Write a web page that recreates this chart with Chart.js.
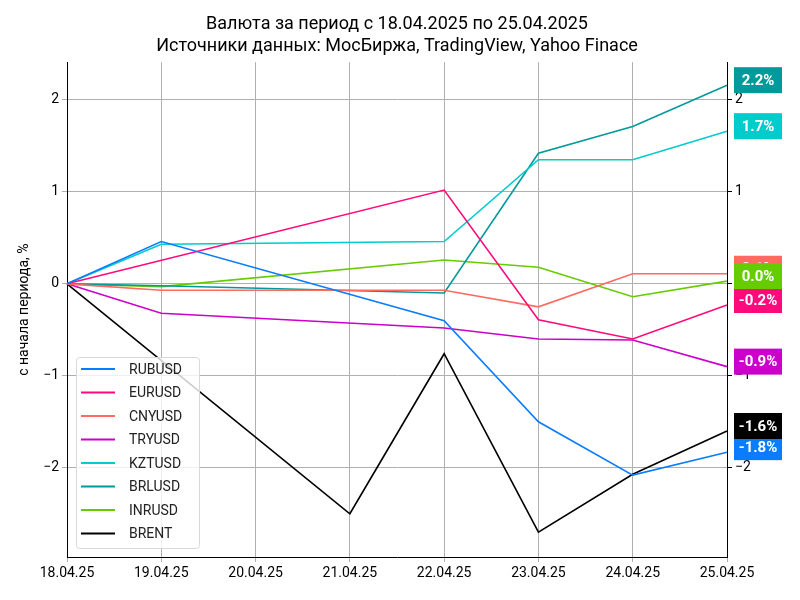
<!DOCTYPE html>
<html>
<head>
<meta charset="utf-8">
<script src="https://cdn.jsdelivr.net/npm/chart.js"></script>
<style>
  body { margin: 0; background: #fff; }
  #wrap { width: 800px; height: 600px; }
</style>
</head>
<body>
<div id="wrap"><canvas id="currencyChart"></canvas></div>
<script>
// Dates and percent change since start of period
const dates = ["18.04.25", "19.04.25", "20.04.25", "21.04.25", "22.04.25", "23.04.25", "24.04.25", "25.04.25"];
const rubusd = [0, 0.46, null, null, -0.40, -1.50, -2.08, -1.83];
const eurusd = [0, null, null, null, 1.02, -0.39, -0.60, -0.23];
const cnyusd = [0, -0.07, null, null, -0.07, -0.25, 0.11, 0.11];
const tryusd = [0, -0.32, null, null, -0.48, -0.60, -0.61, -0.90];
const kztusd = [0, 0.43, null, null, 0.46, 1.35, 1.35, 1.66];
const brlusd = [0, -0.02, null, null, -0.10, 1.42, 1.71, 2.16];
const inrusd = [0, -0.03, null, null, 0.26, 0.18, -0.14, 0.03];
const brent = [0, null, null, -2.50, -0.76, -2.70, -2.07, -1.60];
const yTicks = [-2, -1, 0, 1, 2];

const series = [
  { label: "RUBUSD", data: rubusd, color: "#0a7cff" },
  { label: "EURUSD", data: eurusd, color: "#ff0a7c" },
  { label: "CNYUSD", data: cnyusd, color: "#ff6b60" },
  { label: "TRYUSD", data: tryusd, color: "#cc00cc" },
  { label: "KZTUSD", data: kztusd, color: "#00cccc" },
  { label: "BRLUSD", data: brlusd, color: "#009a9a" },
  { label: "INRUSD", data: inrusd, color: "#66cc00" },
  { label: "BRENT", data: brent, color: "#000000" },
];

const FONT = "Roboto, 'DejaVu Sans', sans-serif";

// Legend box inside the plot + value labels on the right
const extras = {
  id: "extras",
  afterDraw(chart) {
    const c = chart.ctx;
    const y = chart.scales.y;
    // value boxes
    c.save();
    c.font = "bold 15px " + FONT;
    c.textAlign = "center";
    c.textBaseline = "middle";
    series.forEach(s => {
      const v = s.data[s.data.length - 1];
      const py = y.getPixelForValue(v) - 5;
      c.fillStyle = s.color;
      c.fillRect(734, py - 13, 48, 26);
      c.fillStyle = "#fff";
      c.fillText(v.toFixed(1) + "%", 758, py + 1);
    });
    // legend
    const lx = 76, ly = 357;
    c.fillStyle = "rgba(255,255,255,0.8)";
    c.strokeStyle = "#d8d8d8";
    c.lineWidth = 1;
    c.beginPath();
    c.roundRect(lx + 0.5, ly + 0.5, 123, 191, 3);
    c.fill();
    c.stroke();
    c.font = "14px " + FONT;
    c.textAlign = "left";
    series.forEach((s, i) => {
      const ry = ly + 12 + i * 23.5;
      c.strokeStyle = s.color;
      c.lineWidth = 2;
      c.beginPath();
      c.moveTo(81, ry);
      c.lineTo(115, ry);
      c.stroke();
      c.fillStyle = "#222";
      c.fillText(s.label, 129, ry + 1);
    });
    c.restore();
  }
};

new Chart(document.getElementById("currencyChart"), {
  type: "line",
  data: {
    labels: dates,
    datasets: series.map(s => ({
      label: s.label,
      data: s.data,
      borderColor: s.color,
      backgroundColor: s.color,
      borderWidth: 1.6,
      pointRadius: 0,
      tension: 0,
      spanGaps: true,
    })),
  },
  options: {
    responsive: true,
    maintainAspectRatio: false,
    animation: false,
    layout: { padding: { left: 12, right: 18, top: 14, bottom: 0 } },
    plugins: {
      legend: { display: false },
      tooltip: { enabled: false },
      title: {
        display: true,
        text: ["Валюта за период с 18.04.2025 по 25.04.2025", "Источники данных: МосБиржа, TradingView, Yahoo Finace"],
        color: "#000",
        font: { family: FONT, size: 18, weight: "normal", lineHeight: 1.2 },
        padding: { top: 0, bottom: 5 },
      },
    },
    scales: {
      x: {
        offset: false,
        grid: { color: "#b0b0b0", drawTicks: true, tickLength: 5 },
        border: { color: "#000" },
        ticks: { color: "#000", font: { family: FONT, size: 14 }, maxRotation: 0, autoSkip: false },
        afterFit(s) { s.height = 43; },
      },
      y: {
        min: -2.97, max: 2.41,
        afterBuildTicks(s) { s.ticks = yTicks.map(v => ({ value: v })); },
        grid: { color: "#b0b0b0", tickLength: 5 },
        border: { color: "#000" },
        ticks: { color: "#000", font: { family: FONT, size: 14 }, callback: v => v === 0 ? "0" : (v < 0 ? "−" + Math.abs(v) : v) },
        title: { display: true, text: "с начала периода, %", color: "#000", font: { family: FONT, size: 14 } },
        afterFit(s) { s.width = 55; },
      },
      y2: {
        position: "right",
        min: -2.97, max: 2.41,
        afterBuildTicks(s) { s.ticks = yTicks.map(v => ({ value: v })); },
        grid: { drawOnChartArea: false, tickLength: 5, color: "#000" },
        border: { color: "#000" },
        ticks: { color: "#000", font: { family: FONT, size: 14 }, callback: v => v === 0 ? "0" : (v < 0 ? "−" + Math.abs(v) : v) },
        afterFit(s) { s.width = 55; },
      },
    },
  },
  plugins: [extras],
});
</script>
</body>
</html>
